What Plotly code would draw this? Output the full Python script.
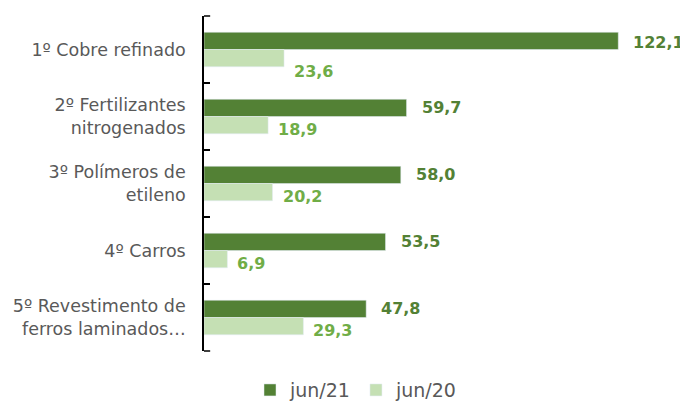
import plotly.graph_objects as go

categories = ["1º Cobre refinado", "2º Fertilizantes<br>nitrogenados", "3º Polímeros de<br>etileno",
              "4º Carros", "5º Revestimento de<br>ferros laminados…"]
jun21 = [122.1, 59.7, 58.0, 53.5, 47.8]
jun20 = [23.6, 18.9, 20.2, 6.9, 29.3]
series_names = ["jun/21", "jun/20"]

dark = "#538135"
light = "#C5E0B4"
light_text = "#70AD47"
font = "DejaVu Sans"

def fmt(v):
    return f"{v:.1f}".replace(".", ",")

fig = go.Figure()
fig.add_trace(go.Bar(y=categories, x=jun21, name=series_names[0], orientation="h",
                     marker=dict(color=dark), hoverinfo="skip"))
fig.add_trace(go.Bar(y=categories, x=jun20, name=series_names[1], orientation="h",
                     marker=dict(color=light), hoverinfo="skip"))

for i, (c, v) in enumerate(zip(categories, jun21)):
    fig.add_annotation(x=v, y=c, text=fmt(v), showarrow=False, xanchor="left",
                       xshift=13, yshift=7 if i == 0 else 9,
                       font=dict(family=font, size=16, color=dark, weight="bold"))
for i, (c, v) in enumerate(zip(categories, jun20)):
    fig.add_annotation(x=v, y=c, text=fmt(v), showarrow=False, xanchor="left",
                       xshift=8, yshift=-22 if i == 0 else -13,
                       font=dict(family=font, size=16, color=light_text, weight="bold"))

# end caps of the category axis (Excel-style bracket)
for yp in (0, 1):
    fig.add_shape(type="line", xref="paper", yref="paper", x0=0, x1=0.013, y0=yp, y1=yp,
                  line=dict(color="black", width=1.5))

fig.update_layout(
    width=680, height=402,
    margin=dict(l=196, r=9, t=8, b=59, autoexpand=False),
    paper_bgcolor="white", plot_bgcolor="white",
    barmode="group", bargap=0.485, bargroupgap=0,
    showlegend=True,
    legend=dict(orientation="h", x=0.32, xanchor="center", y=-0.06, yanchor="top",
                font=dict(family=font, size=19, color="#595959"), traceorder="normal",
                itemwidth=30),
    xaxis=dict(range=[0, 140], visible=False, automargin=False),
    yaxis=dict(autorange="reversed", showline=True, linecolor="black", linewidth=1.5,
               ticks="inside", ticklen=6, tickcolor="black", tickwidth=1.5,
               tickson="boundaries", showgrid=False, automargin=False,
               tickfont=dict(family=font, size=17.5, color="#595959"), ticklabelstandoff=13),
)

fig.write_html("out.html")
